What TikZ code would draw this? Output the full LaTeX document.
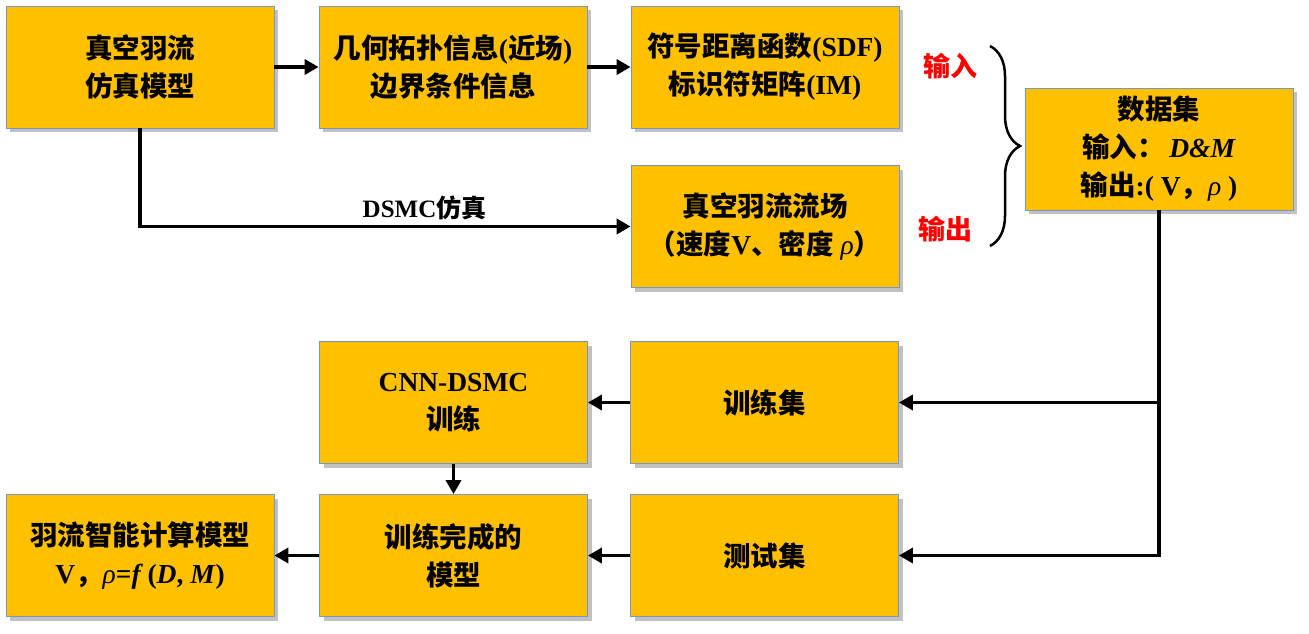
\documentclass[tikz,border=0pt]{standalone}
\usepackage{fontspec}
\setmainfont{Liberation Serif}
\newfontfamily\cjk{Noto Sans CJK SC}
\usetikzlibrary{shadows,arrows.meta,decorations.pathreplacing}
\definecolor{boxfill}{RGB}{255,192,0}
\definecolor{boxborder}{RGB}{120,150,205}
\newcommand\zh[1]{{\cjk #1}}
\newcommand\rh{\textit{\mdseries ρ}}
\tikzset{
  box/.style={draw=boxborder, line width=0.8pt, fill=boxfill,
    minimum width=268pt, minimum height=122pt, inner sep=0pt, align=center,
    font=\fontsize{27.5}{38}\selectfont\bfseries,
    drop shadow={shadow xshift=4pt, shadow yshift=-4pt, opacity=0.3, fill=black!80}},
  conn/.style={line width=3.5pt, -{Triangle[length=14pt,width=15pt]}},
  redlab/.style={text=red, font=\fontsize{27}{30}\selectfont\bfseries},
}
\begin{document}
\begin{tikzpicture}[x=1pt,y=-1pt]
\useasboundingbox (0,0) rectangle (1309,633);
\node[box] (b1) at (140,67) {\zh{真空羽流}\\\zh{仿真模型}};
\node[box] (b2) at (453,67) {\zh{几何拓扑信息}(\zh{近场})\\\zh{边界条件信息}};
\node[box] (b3) at (765,67) {\zh{符号距离函数}(SDF)\\\zh{标识符矩阵}(IM)};
\node[box] (b4) at (765,226.5) {\zh{真空羽流流场}\\\zh{（速度}V\zh{、密度} \rh\zh{）}};
\node[box] (b5) at (1159,149) {\zh{数据集}\\\zh{输入：}\,\textit{D\&M}\\\zh{输出}:( V\zh{，}\rh{} )};
\node[box] (b6) at (453.5,402.5) {CNN-DSMC\\\zh{训练}};
\node[box] (b7) at (764.5,402.5) {\zh{训练集}};
\node[box] (b8) at (140,555.5) {\zh{羽流智能计算模型}\\V\zh{，}\rh=\textit{f}\,(\textit{D}, \textit{M})};
\node[box] (b9) at (453.5,555.5) {\zh{训练完成的}\\\zh{模型}};
\node[box] (b10) at (764.5,555.5) {\zh{测试集}};

\draw[conn] (b1) -- (b2);
\draw[conn] (b2) -- (b3);
\draw[conn] (b1.south) |- node[pos=0.79, above=1pt, font=\fontsize{25}{28}\selectfont\bfseries] (lab) {DSMC\zh{仿真}} (b4.west);
\draw[conn] (b5.south) |- (b7.east);
\draw[conn] (b5.south) |- (b10.east);
\draw[conn] (b7.west) -- (b6.east);
\draw[conn] (b6.south) -- (b9.north);
\draw[conn] (b10.west) -- (b9.east);
\draw[conn] (b9.west) -- (b8.east);

\coordinate (bt) at (990,46);
\coordinate (bb) at (990,246);
\draw[line width=2.5pt, decorate, decoration={brace, amplitude=30pt, aspect=0.5}] (bt) -- (bb);
\node[redlab] (in) at (950,66) {\zh{输入}};
\node[redlab] (out) at (945,229) {\zh{输出}};
\end{tikzpicture}
\end{document}
